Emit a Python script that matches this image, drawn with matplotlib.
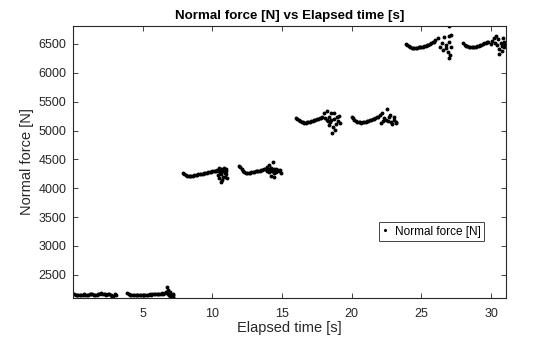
import matplotlib
matplotlib.use("Agg")
import matplotlib.pyplot as plt

plt.rcParams['font.family'] = ['Liberation Sans', 'DejaVu Sans']

# ---- data (time [s], normal force [N]) ----
t1 = [0.0, 0.1, 0.2, 0.3, 0.4, 0.5, 0.6, 0.7, 0.8, 0.9, 1.0, 1.1, 1.2, 1.3, 1.4, 1.5,
      1.6, 1.7, 1.8, 1.9, 2.0, 2.1, 2.2, 2.3, 2.4, 2.5, 2.6, 2.7, 2.8, 2.9, 3.0, 3.1]
f1 = [2170, 2160, 2150, 2145, 2140, 2145, 2150, 2155, 2160, 2150, 2145, 2150, 2160, 2165, 2160, 2150,
      2145, 2150, 2160, 2170, 2175, 2170, 2165, 2160, 2150, 2160, 2170, 2150, 2120, 2135, 2160, 2155]

t2 = [3.9, 4.0, 4.1, 4.2, 4.3, 4.4, 4.5, 4.6, 4.7, 4.8, 4.9, 5.0, 5.1, 5.2, 5.3, 5.4, 5.5,
      5.6, 5.7, 5.8, 5.9, 6.0, 6.1, 6.2, 6.3, 6.4, 6.5, 6.6, 6.7, 6.75, 6.8, 6.85, 6.9,
      7.0, 7.05, 7.1, 7.15, 7.2, 7.1, 7.2, 7.05, 7.0, 7.15]
f2 = [2175, 2165, 2155, 2150, 2145, 2140, 2140, 2145, 2140, 2145, 2150, 2145, 2150, 2155, 2150, 2155, 2160,
      2155, 2160, 2165, 2160, 2165, 2170, 2165, 2170, 2175, 2170, 2180, 2200, 2290, 2230, 2170, 2150,
      2200, 2140, 2110, 2170, 2095, 2091, 2140, 2095, 2130, 2120]

t3 = [7.9, 8.0, 8.1, 8.2, 8.3, 8.4, 8.5, 8.6, 8.7, 8.8, 8.9, 9.0, 9.1, 9.2, 9.3, 9.4,
      9.5, 9.6, 9.7, 9.8, 9.9, 10.0, 10.1, 10.2,
      10.3, 10.35, 10.45, 10.5, 10.55, 10.6, 10.65, 10.7, 10.75, 10.8, 10.85, 10.9, 10.95,
      11.0, 10.5, 10.7, 10.9, 10.4, 11.0, 10.6, 11.05]
f3 = [4270, 4250, 4230, 4220, 4215, 4212, 4212, 4218, 4225, 4228, 4232, 4238, 4242, 4248, 4252, 4258,
      4265, 4270, 4275, 4280, 4285, 4290, 4298, 4305,
      4290, 4316, 4345, 4300, 4270, 4330, 4250, 4316, 4290, 4200, 4345, 4260, 4300,
      4240, 4172, 4143, 4190, 4230, 4330, 4113, 4172]

t4 = [11.9, 12.0, 12.1, 12.2, 12.3, 12.4, 12.5, 12.6, 12.7, 12.8, 12.9, 13.0, 13.1, 13.2,
      13.3, 13.4, 13.5, 13.6, 13.7, 13.8,
      13.9, 13.95, 14.0, 14.05, 14.1, 14.15, 14.2, 14.25, 14.3, 14.35, 14.4, 14.45, 14.5,
      14.55, 14.6, 14.7, 14.8, 14.85, 14.9, 14.2, 14.4]
f4 = [4390, 4360, 4330, 4305, 4285, 4272, 4265, 4262, 4268, 4275, 4280, 4285, 4290, 4292,
      4298, 4305, 4310, 4318, 4325, 4335,
      4300, 4360, 4330, 4280, 4400, 4320, 4350, 4290, 4310, 4460, 4340, 4260, 4300,
      4330, 4280, 4320, 4290, 4310, 4270, 4220, 4200]

t5 = [16.0, 16.1, 16.2, 16.3, 16.4, 16.5, 16.6, 16.7, 16.8, 16.9, 17.0, 17.1, 17.2, 17.3,
      17.4, 17.5, 17.6, 17.7, 17.8, 17.9,
      18.0, 18.2, 18.55, 18.75, 18.25, 18.4, 18.65, 18.9, 18.8, 18.6, 18.5, 19.0, 19.15,
      18.1, 18.3, 18.45, 18.7, 18.95, 18.35, 19.1]
f5 = [5212, 5200, 5185, 5170, 5155, 5145, 5138, 5136, 5140, 5148, 5153, 5160, 5168, 5178,
      5186, 5195, 5205, 5212, 5220, 5228,
      5299, 5344, 5309, 5299, 5186, 5096, 5067, 5114, 5010, 4952, 5183, 5166, 5125,
      5212, 5166, 5153, 5200, 5230, 5240, 5260]

t6 = [20.0, 20.1, 20.2, 20.3, 20.4, 20.5, 20.6, 20.7, 20.8, 20.9, 21.0, 21.1, 21.2, 21.3,
      21.4, 21.5, 21.6, 21.7, 21.8, 21.9,
      22.0, 22.2, 22.5, 22.35, 22.65, 22.1, 22.8, 23.0, 22.9, 23.15, 22.6, 22.75, 23.05,
      23.2, 22.45, 22.25]
f6 = [5235, 5215, 5190, 5172, 5155, 5145, 5140, 5136, 5142, 5148, 5153, 5160, 5168, 5176,
      5185, 5195, 5205, 5218, 5230, 5240,
      5270, 5299, 5374, 5212, 5240, 5125, 5153, 5183, 5114, 5125, 5166, 5270, 5230,
      5153, 5190, 5160]

t7 = [23.9, 24.0, 24.1, 24.2, 24.3, 24.4, 24.5, 24.6, 24.7, 24.8, 24.9, 25.0, 25.1, 25.2,
      25.3, 25.4, 25.5, 25.6, 25.7, 25.8, 25.9,
      26.0, 26.2, 26.5, 26.6, 27.0, 27.15, 26.35, 26.75, 26.9, 27.05, 27.0, 26.8, 26.55,
      26.95, 27.1, 27.0]
f7 = [6501, 6480, 6460, 6448, 6438, 6430, 6426, 6428, 6434, 6440, 6443, 6450, 6456, 6462,
      6470, 6478, 6490, 6501, 6515, 6530, 6541,
      6570, 6599, 6524, 6628, 6640, 6657, 6454, 6426, 6367, 6310, 6253, 6480, 6400,
      6540, 6454, 6810]

t8 = [28.0, 28.1, 28.2, 28.3, 28.4, 28.5, 28.6, 28.7, 28.8, 28.9, 29.0, 29.1, 29.2, 29.3,
      29.4, 29.5, 29.6, 29.7, 29.8,
      30.0, 30.1, 30.2, 30.3, 30.35, 30.45, 30.5, 30.6, 30.7, 30.75, 30.8, 30.9, 30.95,
      31.0, 30.55, 30.85]
f8 = [6512, 6490, 6472, 6460, 6450, 6445, 6443, 6445, 6450, 6454, 6458, 6465, 6475, 6485,
      6498, 6510, 6520, 6530, 6541,
      6500, 6560, 6600, 6520, 6640, 6480, 6580, 6420, 6520, 6380, 6460, 6540, 6440,
      6500, 6320, 6600]

x_ticks = [5, 10, 15, 20, 25, 30]
y_ticks = [2500, 3000, 3500, 4000, 4500, 5000, 5500, 6000, 6500]

time_s = t1 + t2 + t3 + t4 + t5 + t6 + t7 + t8
force_n = f1 + f2 + f3 + f4 + f5 + f6 + f7 + f8

# ---- figure ----
fig = plt.figure(figsize=(5.6, 3.37), dpi=100)
ax = fig.add_axes([0.1309, 0.1148, 0.7727, 0.8089])

ax.plot(time_s, force_n, linestyle='none', marker='o', markersize=2.8,
        color='black', markeredgewidth=0, label='Normal force [N]')

ax.set_xlim(0.03, 31.07)
ax.set_ylim(2091, 6817)
ax.set_xticks(x_ticks)
ax.set_yticks(y_ticks)

axc = '#262626'
for s in ax.spines.values():
    s.set_color(axc)
    s.set_linewidth(0.8)
ax.tick_params(direction='in', top=True, right=True, length=3.5, width=0.6,
               colors=axc, labelsize=9, labelcolor=axc)
ax.tick_params(axis='x', pad=7)
ax.tick_params(axis='y', pad=5)

ax.set_xlabel('Elapsed time [s]', fontsize=10.5, color=axc, labelpad=1)
ax.set_ylabel('Normal force [N]', fontsize=10.5, color=axc, labelpad=3)
ax.set_title('Normal force [N] vs Elapsed time [s]', fontsize=9.6, fontweight='bold',
             color='black', pad=5)

leg = ax.legend(loc='upper right', bbox_to_anchor=(0.949, 0.280), fontsize=8.5,
                frameon=True, fancybox=False, framealpha=1, edgecolor=axc,
                handlelength=0.4, handletextpad=0.6, borderpad=0.3, markerscale=0.8,
                borderaxespad=0)
leg.get_frame().set_linewidth(0.6)

fig.savefig('out.png', dpi=100)
